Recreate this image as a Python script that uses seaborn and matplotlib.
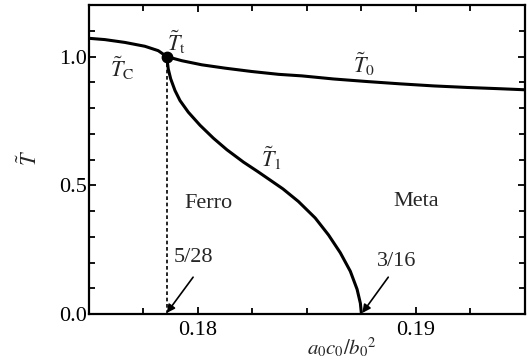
import matplotlib
matplotlib.use("Agg")
import matplotlib.pyplot as plt
from matplotlib.ticker import MultipleLocator, FixedLocator
import seaborn as sns
import pandas as pd

# Upper transition line: T_C (left of the triple point) continuing as T_0
upper_x = [0.17500, 0.17573, 0.17665, 0.17757, 0.17818, 0.17857, 0.17926,
           0.18018, 0.18125, 0.18247, 0.18370, 0.18477, 0.18622, 0.18776,
           0.18929, 0.19082, 0.19235, 0.19388, 0.19500]
upper_y = [1.071, 1.066, 1.055, 1.040, 1.023, 1.000, 0.984,
           0.968, 0.955, 0.942, 0.931, 0.925, 0.913, 0.903,
           0.894, 0.886, 0.880, 0.875, 0.871]

# Lower line T_1 from the triple point down to 3/16
t1_x = [0.17857, 0.17864, 0.17875, 0.17895, 0.17918, 0.17956, 0.18010,
        0.18071, 0.18133, 0.18209, 0.18275, 0.18330, 0.18390, 0.18461,
        0.18538, 0.18599, 0.18653, 0.18699, 0.18730, 0.18745, 0.18750]
t1_y = [1.000, 0.952, 0.914, 0.868, 0.829, 0.784, 0.733,
        0.683, 0.638, 0.590, 0.553, 0.521, 0.486, 0.437,
        0.373, 0.307, 0.238, 0.166, 0.096, 0.042, 0.000]

triple_x, triple_y = 5 / 28, 1.0
end_x = 3 / 16

sns.set_style("ticks")
plt.rcParams["font.family"] = ["Liberation Serif", "DejaVu Serif"]
plt.rcParams["mathtext.fontset"] = "stix"

fig = plt.figure(figsize=(5.29, 3.64), dpi=100)
ax = fig.add_axes([0.168, 0.1374, 0.8244, 0.8486])

upper = pd.DataFrame({"x": upper_x, "y": upper_y})
lower = pd.DataFrame({"x": t1_x, "y": t1_y})
sns.lineplot(data=upper, x="x", y="y", sort=False, color="black", lw=2.2, ax=ax)
sns.lineplot(data=lower, x="x", y="y", sort=False, color="black", lw=2.2, ax=ax)

ax.plot([triple_x, triple_x], [0, triple_y], color="black", lw=1.2,
        ls=(0, (2.2, 1.6)))
ax.plot([triple_x], [triple_y], "o", color="black", ms=7.5, zorder=5)

ax.set_xlim(0.175, 0.195)
ax.set_ylim(0, 1.2)
ax.xaxis.set_major_locator(FixedLocator([0.18, 0.19]))
ax.xaxis.set_minor_locator(MultipleLocator(0.0025))
ax.yaxis.set_major_locator(FixedLocator([0.0, 0.5, 1.0]))
ax.yaxis.set_minor_locator(MultipleLocator(0.1))
ax.set_xticklabels(["0.18", "0.19"])
ax.set_yticklabels(["0.0", "0.5", "1.0"])
ax.tick_params(which="both", direction="in", top=True, right=True,
               width=1.3, labelsize=16, colors="black")
ax.tick_params(which="major", length=5)
ax.tick_params(which="minor", length=4)
ax.tick_params(axis="x", which="major", pad=5)
ax.tick_params(axis="y", which="major", pad=1.5)
for s in ax.spines.values():
    s.set_linewidth(1.6)
    s.set_color("black")

ax.set_xlabel(r"$a_0c_0/b_0{}^2$", fontsize=15)
ax.xaxis.set_label_coords(0.58, -0.072)
ax.set_ylabel("")
ax.text(-0.135, 0.505, r"$\tilde{T}$", fontsize=16, rotation=90,
        ha="center", va="center", transform=ax.transAxes)

fs = 16
ax.text(0.17652, 0.953, r"$\tilde{T}_\mathrm{C}$", fontsize=fs, ha="center", va="center")
ax.text(0.17900, 1.054, r"$\tilde{T}_\mathrm{t}$", fontsize=fs, ha="center", va="center")
ax.text(0.18763, 0.969, r"$\tilde{T}_0$", fontsize=fs, ha="center", va="center")
ax.text(0.18335, 0.605, r"$\tilde{T}_1$", fontsize=fs, ha="center", va="center")
ax.text(0.18047, 0.430, "Ferro", fontsize=16, ha="center", va="center")
ax.text(0.19002, 0.438, "Meta", fontsize=16, ha="center", va="center")

arrow = dict(arrowstyle="-|>", color="black", lw=1.2, shrinkA=0, shrinkB=0,
             mutation_scale=12)
ax.text(0.17978, 0.221, "5/28", fontsize=16, ha="center", va="center")
ax.annotate("", xy=(triple_x, 0.004), xytext=(0.17978, 0.143), arrowprops=arrow)
ax.text(0.18910, 0.205, "3/16", fontsize=16, ha="center", va="center")
ax.annotate("", xy=(end_x + 0.00004, 0.004), xytext=(0.18873, 0.143),
            arrowprops=arrow)

fig.savefig("out.png", dpi=100)
